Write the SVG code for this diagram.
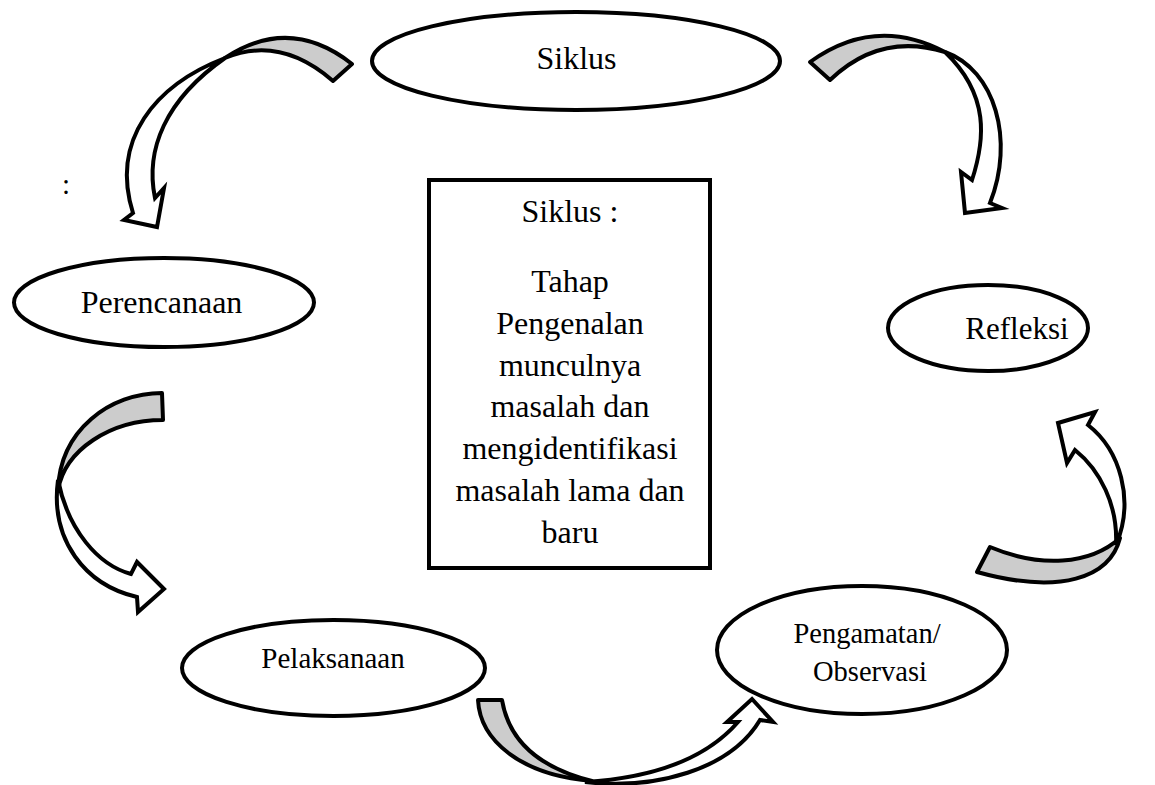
<svg xmlns="http://www.w3.org/2000/svg" width="1155" height="785" viewBox="0 0 1155 785">
<style>
.node{fill:#fff;stroke:#000;stroke-width:4}
.lbl{font-family:"Liberation Serif","Times New Roman",serif;fill:#000;text-anchor:middle}
.back{fill:#cccccc;stroke:#000;stroke-width:4;stroke-linejoin:round}
.front{fill:#fff;stroke:#000;stroke-width:4;stroke-linejoin:miter}
</style>
<rect width="1155" height="785" fill="#fff"/>
<g id="connectors">
  <g id="arrow-siklus-perencanaan">
    <path class="back" d="M352,64 Q290,15 225,58 Q280,35 333,81 Z"/>
    <path class="front" d="M225,58 C155,85 110,140 133,213 L124,220 L157,227 L164,188 L155,198 C145,150 165,100 225,58 Z"/>
  </g>
  <g id="arrow-siklus-refleksi">
    <path class="back" d="M810,62 Q875,15 945,52 Q880,32 830,80 Z"/>
    <path class="front" d="M945,52 C995,70 1015,140 990,203 L1002,208 L965,213 L961,172 L972,180 C985,140 990,95 945,52 Z"/>
  </g>
  <g id="arrow-perencanaan-pelaksanaan">
    <path class="back" d="M162,393 C110,393 60,430 58,490 C65,450 110,420 163,420 Z"/>
    <path class="front" d="M58,480 C50,540 85,585 137,597 L138,612 L164,589 L137,562 L131,574 C98,565 68,530 58,480 Z"/>
  </g>
  <g id="arrow-pelaksanaan-pengamatan">
    <path class="back" d="M478,700 C480,740 520,775 592,781 C548,770 510,748 502,700 Z"/>
    <path class="front" d="M585,782 C655,790 730,770 760,720 L773,722 L752,699 L727,722 L738,722 C705,760 650,778 585,782 Z"/>
  </g>
  <g id="arrow-pengamatan-refleksi">
    <path class="back" d="M990,547 C1040,568 1090,565 1120,538 C1110,578 1060,595 977,572 Z"/>
    <path class="front" d="M1116,545 C1135,500 1120,450 1088,425 L1095,412 L1058,423 L1067,463 L1075,450 C1100,470 1118,505 1116,545 Z"/>
  </g>
</g>
<g id="node-siklus">
  <ellipse class="node" cx="576" cy="61" rx="204" ry="49"/>
  <text class="lbl" x="576.5" y="69" font-size="32">Siklus</text>
</g>
<g id="node-perencanaan">
  <ellipse class="node" cx="164" cy="302.5" rx="150" ry="44.5"/>
  <text class="lbl" x="161.5" y="313" font-size="32">Perencanaan</text>
</g>
<g id="node-refleksi">
  <ellipse class="node" cx="988" cy="328" rx="100" ry="43"/>
  <text class="lbl" x="1017" y="339" font-size="31">Refleksi</text>
</g>
<g id="node-pelaksanaan">
  <ellipse class="node" cx="333.5" cy="668" rx="151.5" ry="48"/>
  <text class="lbl" x="333" y="668" font-size="29">Pelaksanaan</text>
</g>
<g id="node-pengamatan">
  <ellipse class="node" cx="862" cy="650" rx="145" ry="64"/>
  <text class="lbl" x="867" y="643" font-size="28.5">Pengamatan/</text>
  <text class="lbl" x="870" y="681" font-size="28.5">Observasi</text>
</g>
<g id="node-box">
  <rect x="429" y="180" width="281" height="388" fill="#fff" stroke="#000" stroke-width="4"/>
  <g class="lbl" font-size="32">
    <text x="570" y="222">Siklus :</text>
    <text x="570" y="292">Tahap</text>
    <text x="570" y="334">Pengenalan</text>
    <text x="570" y="376">munculnya</text>
    <text x="570" y="417">masalah dan</text>
    <text x="570" y="459">mengidentifikasi</text>
    <text x="570" y="501">masalah lama dan</text>
    <text x="570" y="543">baru</text>
  </g>
</g>
<text id="colon" x="66" y="194" font-size="29" font-family="Liberation Serif, serif" text-anchor="middle">:</text>
</svg>
